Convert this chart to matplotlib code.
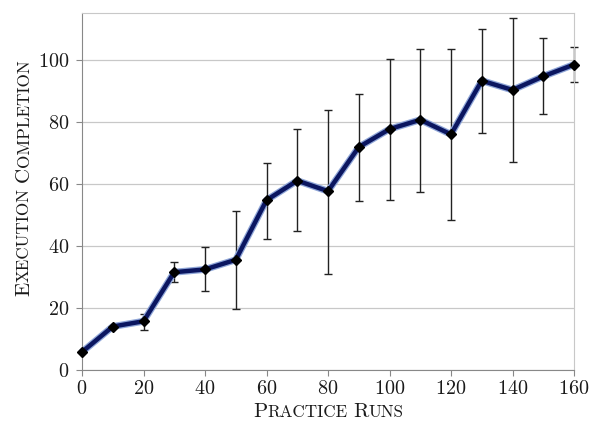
import matplotlib
matplotlib.use('Agg')
import matplotlib.pyplot as plt

plt.rcParams['font.family'] = 'cmr10'
plt.rcParams['mathtext.fontset'] = 'cm'
plt.rcParams['axes.formatter.use_mathtext'] = True

runs = [0, 10, 20, 30, 40, 50, 60, 70, 80, 90, 100, 110, 120, 130, 140, 150, 160]
completion = [5.8, 14.0, 15.7, 31.5, 32.4, 35.5, 54.7, 61.0, 57.6, 71.8, 77.6, 80.6, 75.9, 93.2, 90.2, 94.6, 98.4]
err_low = [5.8, 14.0, 13.0, 28.2, 25.4, 19.6, 42.3, 44.7, 31.0, 54.6, 54.8, 57.4, 48.2, 76.3, 67.0, 82.4, 92.7]
err_high = [5.8, 14.0, 17.9, 34.7, 39.5, 51.2, 66.8, 77.5, 83.9, 88.8, 100.1, 103.3, 103.5, 109.9, 113.4, 106.9, 103.9]


def smallcaps(fig, words, x, y, big=15, small=12.3, rotation=0):
    # fake small caps: first letter big, rest upper case and smaller
    renderer = fig.canvas.get_renderer()
    pieces = []
    for k, w in enumerate(words):
        if k > 0:
            pieces.append((' ', small))
        pieces.append((w[0], big))
        pieces.append((w[1:].upper(), small))
    texts = []
    for s, fs in pieces:
        t = fig.text(0, 0, s, fontsize=fs, rotation=rotation, va='baseline', ha='left',
                     rotation_mode='anchor', color='#1a1a1a')
        texts.append(t)
    sizes = []
    for t in texts:
        bb = t.get_window_extent(renderer)
        sizes.append(bb.height if rotation == 90 else bb.width)
    total = sum(sizes)
    W, H = fig.bbox.width, fig.bbox.height
    if rotation == 90:
        pos = y * H - total / 2
        for t, s in zip(texts, sizes):
            t.set_position((x, pos / H))
            pos += s
    else:
        pos = x * W - total / 2
        for t, s in zip(texts, sizes):
            t.set_position((pos / W, y))
            pos += s


fig = plt.figure(figsize=(5.98, 4.22), dpi=100)
ax = fig.add_axes([82 / 598, 1 - 370 / 422, (574 - 82) / 598, (370 - 13) / 422])

yerr = [[c - lo for c, lo in zip(completion, err_low)],
        [hi - c for c, hi in zip(completion, err_high)]]
eb = ax.errorbar(runs, completion, yerr=yerr, fmt='none', ecolor='#222222', elinewidth=1.0,
                 capsize=3, capthick=1.0, zorder=2)
for artist in eb.get_children():
    artist.set_clip_on(False)
ax.plot(runs, completion, color='#8fa6d8', linewidth=5, solid_capstyle='round', zorder=3, clip_on=False)
ax.plot(runs, completion, color='#0b1660', linewidth=3.2, zorder=4, clip_on=False)
ax.plot(runs, completion, linestyle='none', marker='D', markersize=5.5, color='black', zorder=5,
        clip_on=False)

ax.set_xlim(0, 160)
ax.set_ylim(0, 115)
ax.set_xticks(range(0, 161, 20))
ax.set_yticks(range(0, 101, 20))
ax.yaxis.grid(True, color='#c8c8c8', linewidth=0.9)
ax.set_axisbelow(True)
for side in ['top', 'right']:
    ax.spines[side].set_color('#c8c8c8')
for side in ['left', 'bottom']:
    ax.spines[side].set_color('#888888')
ax.tick_params(axis='both', labelsize=14.5, colors='#1a1a1a', length=4, color='#888888')
ax.tick_params(axis='y', pad=5)

smallcaps(fig, ['Practice', 'Runs'], (82 + 574) / 2 / 598, 1 - 417 / 422)
smallcaps(fig, ['Execution', 'Completion'], 29 / 598, 1 - 178 / 422, rotation=90)

fig.savefig('out.png', dpi=100)
